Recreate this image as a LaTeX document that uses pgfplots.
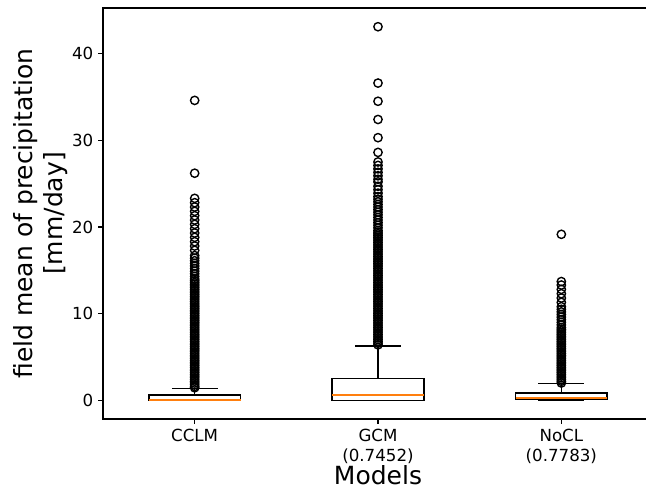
\documentclass[border=0pt]{standalone}
\usepackage{fontspec}
\setmainfont{DejaVu Sans}
\usepackage{pgfplots}
\pgfplotsset{compat=1.18}
\usepgfplotslibrary{statistics}
\usetikzlibrary{calc}
\definecolor{mplorange}{HTML}{FF7F0E}
\begin{document}
\begin{tikzpicture}
\begin{axis}[
  scale only axis,
  width=396pt, height=295.92pt,
  xmin=0.5, xmax=3.5,
  ymin=-2.155, ymax=45.26,
  xtick={1,2,3},
  xticklabels={CCLM, GCM\\(0.7452), NoCL\\(0.7783)},
  xticklabel style={align=center, font=\fontsize{12}{14.4}\selectfont},
  ytick={0,10,20,30,40},
  yticklabel style={font=\fontsize{12}{14.4}\selectfont},
  /pgf/number format/assume math mode=true,
  tick align=outside,
  xtick pos=bottom, ytick pos=left,
  major tick length=3.5pt,
  tick style={line width=0.8pt, black},
  axis line style={line width=0.8pt},
  xlabel={Models},
  ylabel={field mean of precipitation\\{[mm/day]}},
  xlabel style={font=\fontsize{18}{21.6}\selectfont, yshift=5pt},
  ylabel style={font=\fontsize{18}{21.6}\selectfont, align=center, yshift=-4pt},
  boxplot/draw direction=y,
  boxplot/box extend=0.5,
  boxplot/whisker extend=0.25,
  boxplot/every box/.style={draw=black, line width=1pt, fill=none},
  boxplot/every whisker/.style={draw=black, line width=1pt},
  boxplot/every median/.style={draw=mplorange, line width=1.4pt},
]
\coordinate (ll) at (rel axis cs:0,0);
% CCLM
\addplot[black, mark=o, mark size=3pt, mark options={black, line width=1pt, fill=none},
  boxplot prepared={lower whisker=0, lower quartile=0.0, median=0.05, upper quartile=0.63, upper whisker=1.35, draw position=1}]
  table[row sep=\\, y index=0] {
34.6\\26.2\\23.3\\22.8\\22.3\\21.8\\21.3\\20.8\\20.3\\19.8\\19.3\\18.8\\18.3\\17.8\\17.3\\16.7\\16.4\\16.1\\15.8\\15.5\\15.2\\14.9\\14.6\\14.3\\14.0\\
13.8\\13.6\\13.4\\13.2\\13.0\\12.8\\12.6\\12.4\\12.2\\12.0\\11.8\\11.6\\11.4\\11.2\\11.0\\10.8\\10.6\\10.4\\10.2\\10.0\\
9.8\\9.6\\9.4\\9.2\\9.0\\8.8\\8.6\\8.4\\8.2\\8.0\\7.8\\7.6\\7.4\\7.2\\7.0\\6.8\\6.6\\6.4\\6.2\\6.0\\
5.8\\5.6\\5.4\\5.2\\5.0\\4.8\\4.6\\4.4\\4.2\\4.0\\3.8\\3.6\\3.4\\3.2\\3.0\\2.8\\2.6\\2.4\\2.2\\2.0\\1.8\\1.6\\1.45\\
};
% GCM
\addplot[black, mark=o, mark size=3pt, mark options={black, line width=1pt, fill=none},
  boxplot prepared={lower whisker=0, lower quartile=0.0, median=0.58, upper quartile=2.5, upper whisker=6.26, draw position=2}]
  table[row sep=\\, y index=0] {
43.1\\36.6\\34.5\\32.4\\30.3\\28.6\\27.5\\27.1\\26.7\\26.3\\25.9\\25.5\\25.2\\24.7\\24.3\\23.9\\23.5\\23.2\\22.9\\22.6\\22.3\\22.0\\21.7\\21.4\\21.1\\20.8\\20.5\\20.2\\19.9\\19.6\\
19.4\\19.2\\19.0\\18.8\\18.6\\18.4\\18.2\\18.0\\17.8\\17.6\\17.4\\17.2\\17.0\\16.8\\16.6\\16.4\\16.2\\16.0\\
15.8\\15.6\\15.4\\15.2\\15.0\\14.8\\14.6\\14.4\\14.2\\14.0\\13.8\\13.6\\13.4\\13.2\\13.0\\12.8\\12.6\\12.4\\12.2\\12.0\\
11.8\\11.6\\11.4\\11.2\\11.0\\10.8\\10.6\\10.4\\10.2\\10.0\\9.8\\9.6\\9.4\\9.2\\9.0\\8.8\\8.6\\8.4\\8.2\\8.0\\
7.8\\7.6\\7.4\\7.2\\7.0\\6.8\\6.6\\6.4\\
};
% NoCL
\addplot[black, mark=o, mark size=3pt, mark options={black, line width=1pt, fill=none},
  boxplot prepared={lower whisker=0, lower quartile=0.08, median=0.27, upper quartile=0.84, upper whisker=1.93, draw position=3}]
  table[row sep=\\, y index=0] {
19.15\\13.7\\13.3\\12.8\\12.3\\11.8\\11.3\\10.8\\10.5\\10.2\\9.9\\9.6\\9.3\\9.0\\8.7\\8.4\\
8.2\\8.0\\7.8\\7.6\\7.4\\7.2\\7.0\\6.8\\6.6\\6.4\\6.2\\6.0\\5.8\\5.6\\5.4\\5.2\\5.0\\4.8\\4.6\\4.4\\4.2\\4.0\\
3.8\\3.6\\3.4\\3.2\\3.0\\2.8\\2.6\\2.4\\2.2\\2.0\\
};
\end{axis}
\pgfresetboundingbox
\path[use as bounding box] ($(ll)+(-74.16pt,-51.12pt)$) rectangle ($(ll)+(390.96pt,301.68pt)$);
\end{tikzpicture}
\end{document}
